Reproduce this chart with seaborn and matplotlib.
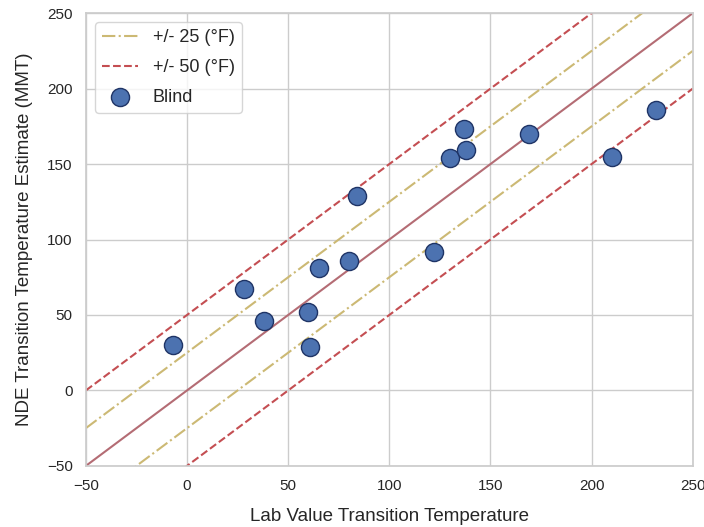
import numpy as np
import matplotlib
matplotlib.use("Agg")
import matplotlib.pyplot as plt
import seaborn as sns

# lab value vs NDE estimate (blind set)
lab_temp = [-7, 28, 38, 60, 61, 65, 80, 84, 122, 130, 137, 138, 169, 210, 232]
nde_temp = [30, 67, 46, 52, 29, 81, 86, 129, 92, 154, 173, 159, 170, 155, 186]

limits = [-50, 250]
bands = [25, 50]

sns.set_theme(style="whitegrid", color_codes=True)
plt.rcParams["font.family"] = ["Liberation Sans", "DejaVu Sans"]

fig, ax = plt.subplots(figsize=(7.04, 5.27), dpi=100)

ref = np.array(limits)
ax.plot(ref, ref, "-", color="#b46c74", lw=1.5)
ax.plot(ref, ref + bands[0], "y-.", lw=1.5, label="+/- 25 (°F)")
ax.plot(ref, ref - bands[0], "y-.", lw=1.5)
ax.plot(ref, ref + bands[1], "r--", lw=1.5, label="+/- 50 (°F)")
ax.plot(ref, ref - bands[1], "r--", lw=1.5)

sns.scatterplot(x=lab_temp, y=nde_temp, ax=ax, color="b", s=170,
                edgecolor="#1f3466", linewidth=1, label="Blind", zorder=3)

ax.set_xlim(limits)
ax.set_ylim(limits)
ax.set_xlabel("Lab Value Transition Temperature", fontsize=13.5, labelpad=11)
ax.set_ylabel("NDE Transition Temperature Estimate (MMT)", fontsize=13.5, labelpad=10)
ax.tick_params(labelsize=11)
for s in ax.spines.values():
    s.set_color("#cccccc")
ax.legend(loc="upper left", fontsize=13, handlelength=2.0, labelspacing=0.7)

fig.subplots_adjust(left=0.122, right=0.984, top=0.975, bottom=0.116)
fig.savefig("out.png", dpi=100)
